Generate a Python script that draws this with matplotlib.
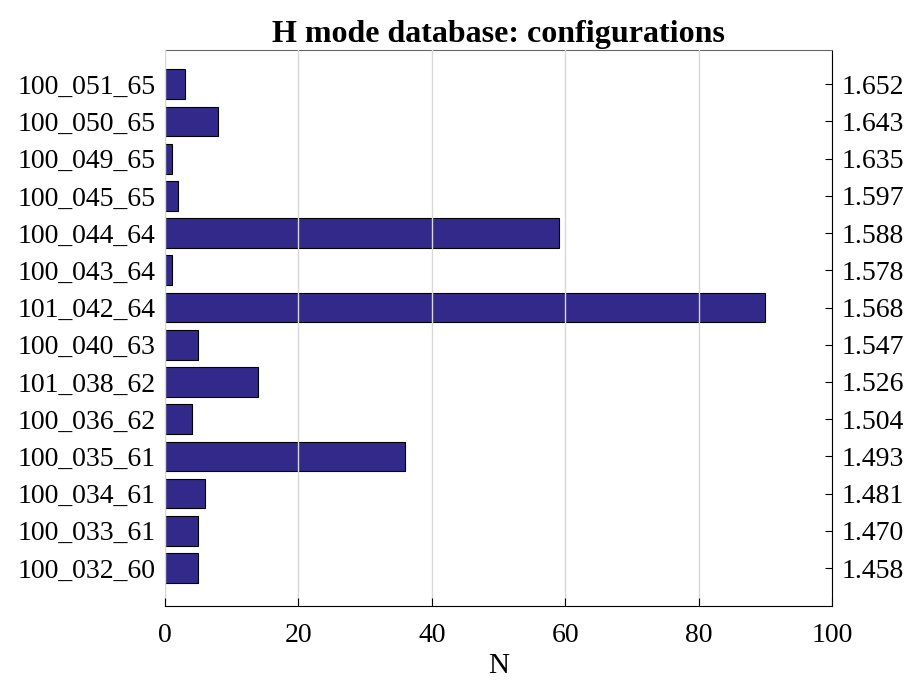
import matplotlib
matplotlib.use("Agg")
import matplotlib.pyplot as plt

configs = ["100_032_60", "100_033_61", "100_034_61", "100_035_61", "100_036_62",
           "101_038_62", "100_040_63", "101_042_64", "100_043_64", "100_044_64",
           "100_045_65", "100_049_65", "100_050_65", "100_051_65"]
counts = [5, 5, 6, 36, 4, 14, 5, 90, 1, 59, 2, 1, 8, 3]
right_labels = ["1.458", "1.470", "1.481", "1.493", "1.504", "1.526", "1.547",
                "1.568", "1.578", "1.588", "1.597", "1.635", "1.643", "1.652"]

plt.rcParams['font.family'] = ['Liberation Serif', 'DejaVu Serif']
fig = plt.figure(figsize=(9.11, 6.83), dpi=100)
ax = fig.add_axes([165/911, 1 - 606/683, (832-165)/911, (606-50)/683])

pos = list(range(len(configs)))
ax.barh(pos, counts, height=0.8, color='#33298a', edgecolor='black', linewidth=0.8, zorder=1)
ax.set_xlim(0, 100)
ax.set_ylim(-1.02, 13.92)
ax.set_xticks([0, 20, 40, 60, 80, 100])
ax.tick_params(axis='x', direction='in', length=6, labelsize=20, pad=12)
ax.set_yticks(pos)
ax.set_yticklabels(configs)
ax.tick_params(axis='y', length=0, labelsize=20, pad=7)
ax.xaxis.grid(True, color='#d8d8d8', linewidth=1, zorder=3)
ax.set_axisbelow(False)
for gl in ax.get_xgridlines():
    gl.set_zorder(3)
ax.set_xlabel('N', fontsize=21, labelpad=4)
ax.set_title('H mode database: configurations', fontsize=23, fontweight='bold', pad=6)

ax.spines['left'].set_color('#bbbbbb')
ax.spines['top'].set_color('#666666')
ax.spines['bottom'].set_color('black')
ax.spines['right'].set_color('black')

ax2 = ax.twinx()
ax2.set_ylim(ax.get_ylim())
ax2.set_yticks(pos)
ax2.set_yticklabels(right_labels)
ax2.tick_params(axis='y', direction='in', length=5, labelsize=20, pad=7)
for s in ax2.spines.values():
    s.set_visible(False)

fig.savefig('out.png', dpi=100)
